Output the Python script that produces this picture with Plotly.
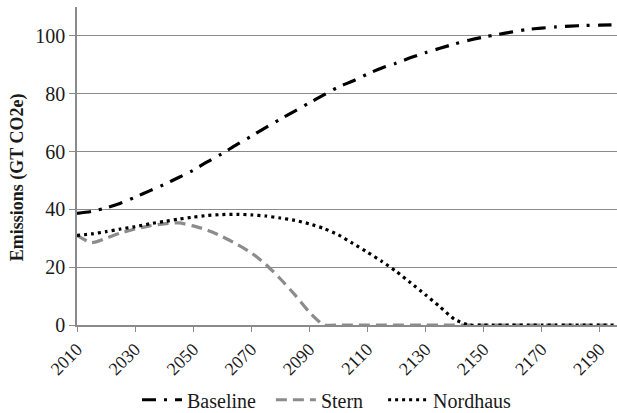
import plotly.graph_objects as go

years = list(range(2010, 2200, 5))

baseline = [38.6, 39.3, 40.5, 42.1, 44.2, 46.4, 48.6, 51.0, 53.5, 56.5,
            59.3, 62.4, 65.3, 68.3, 71.2, 74.0, 76.8, 79.6, 82.3, 84.4,
            86.8, 88.9, 90.6, 92.5, 94.2, 95.7, 97.2, 98.5, 99.6, 100.5,
            101.4, 102.2, 102.7, 103.1, 103.4, 103.6, 103.7, 103.8]

stern = [31.0, 28.5, 30.0, 31.8, 33.2, 34.3, 35.0, 35.3, 34.3, 32.8,
         30.6, 28.0, 25.0, 21.0, 16.0, 10.5, 4.5, 0.0, 0.0, 0.0,
         0.0, 0.0, 0.0, 0.0, 0.0, 0.0, 0.0, 0.0, 0.0, 0.0,
         0.0, 0.0, 0.0, 0.0, 0.0, 0.0, 0.0, 0.0]

nordhaus = [31.0, 31.5, 32.3, 33.2, 34.0, 35.0, 35.8, 36.6, 37.3, 37.9,
            38.2, 38.3, 38.1, 37.7, 37.0, 36.2, 35.0, 33.4, 31.2, 28.2,
            25.2, 22.0, 18.5, 14.5, 10.5, 6.3, 2.0, 0.0, 0.0, 0.0,
            0.0, 0.0, 0.0, 0.0, 0.0, 0.0, 0.0, 0.0]

series_names = ["Baseline", "Stern", "Nordhaus"]
xticks = list(range(2010, 2200, 20))
yticks = [0, 20, 40, 60, 80, 100]

font_family = "Liberation Serif, Times New Roman, serif"
pad = ["\u00a0\u00a0", "\u00a0\u00a0\u00a0", ""]

fig = go.Figure()
fig.add_trace(go.Scatter(x=years, y=baseline, name=series_names[0] + pad[0], mode="lines",
                         line=dict(color="black", width=3.2, dash="14px,8px,3px,8px",
                                   shape="spline", smoothing=0.8)))
fig.add_trace(go.Scatter(x=years, y=stern, name=series_names[1] + pad[1], mode="lines",
                         line=dict(color="#8c8c8c", width=3.2, dash="11px,6px",
                                   shape="spline", smoothing=0.6)))
fig.add_trace(go.Scatter(x=years, y=nordhaus, name=series_names[2] + pad[2], mode="lines",
                         line=dict(color="black", width=3.2, dash="3px,4px",
                                   shape="spline", smoothing=0.6)))

fig.update_layout(
    width=617, height=413,
    margin=dict(l=77, r=0, t=7, b=88, autoexpand=False),
    paper_bgcolor="white", plot_bgcolor="white",
    font=dict(family=font_family, size=18, color="#1a1a1a"),
    showlegend=True,
    legend=dict(orientation="h", x=0.463, xanchor="center", y=-0.235, yanchor="middle",
                font=dict(family=font_family, size=20, color="#1a1a1a"),
                itemwidth=40, tracegroupgap=0),
    xaxis=dict(range=[2010, 2196], tickvals=xticks, ticktext=[str(t) for t in xticks],
               tickangle=-45, showgrid=False, showline=True, linecolor="#8a8a8a",
               linewidth=1.5, ticks="outside", ticklen=5, tickcolor="#8a8a8a",
               tickfont=dict(family=font_family, size=18), zeroline=False,
               automargin=False),
    yaxis=dict(range=[0, 110], tickvals=yticks, showgrid=True, gridcolor="#8a8a8a",
               gridwidth=1.3, showline=True, linecolor="#8a8a8a", linewidth=1.5,
               ticks="outside", ticklen=6, tickcolor="#8a8a8a", zeroline=False,
               tickfont=dict(family=font_family, size=20), automargin=False),
    annotations=[dict(text="<b>Emissions (GT CO2e)</b>", textangle=-90,
                      xref="paper", yref="paper", x=-0.111, y=0.465,
                      xanchor="center", yanchor="middle", showarrow=False,
                      font=dict(family=font_family, size=18, color="#1a1a1a"))],
)

fig.write_html("out.html", config={"displayModeBar": False},
               post_script="document.body.style.margin='0';document.body.style.padding='0';")
